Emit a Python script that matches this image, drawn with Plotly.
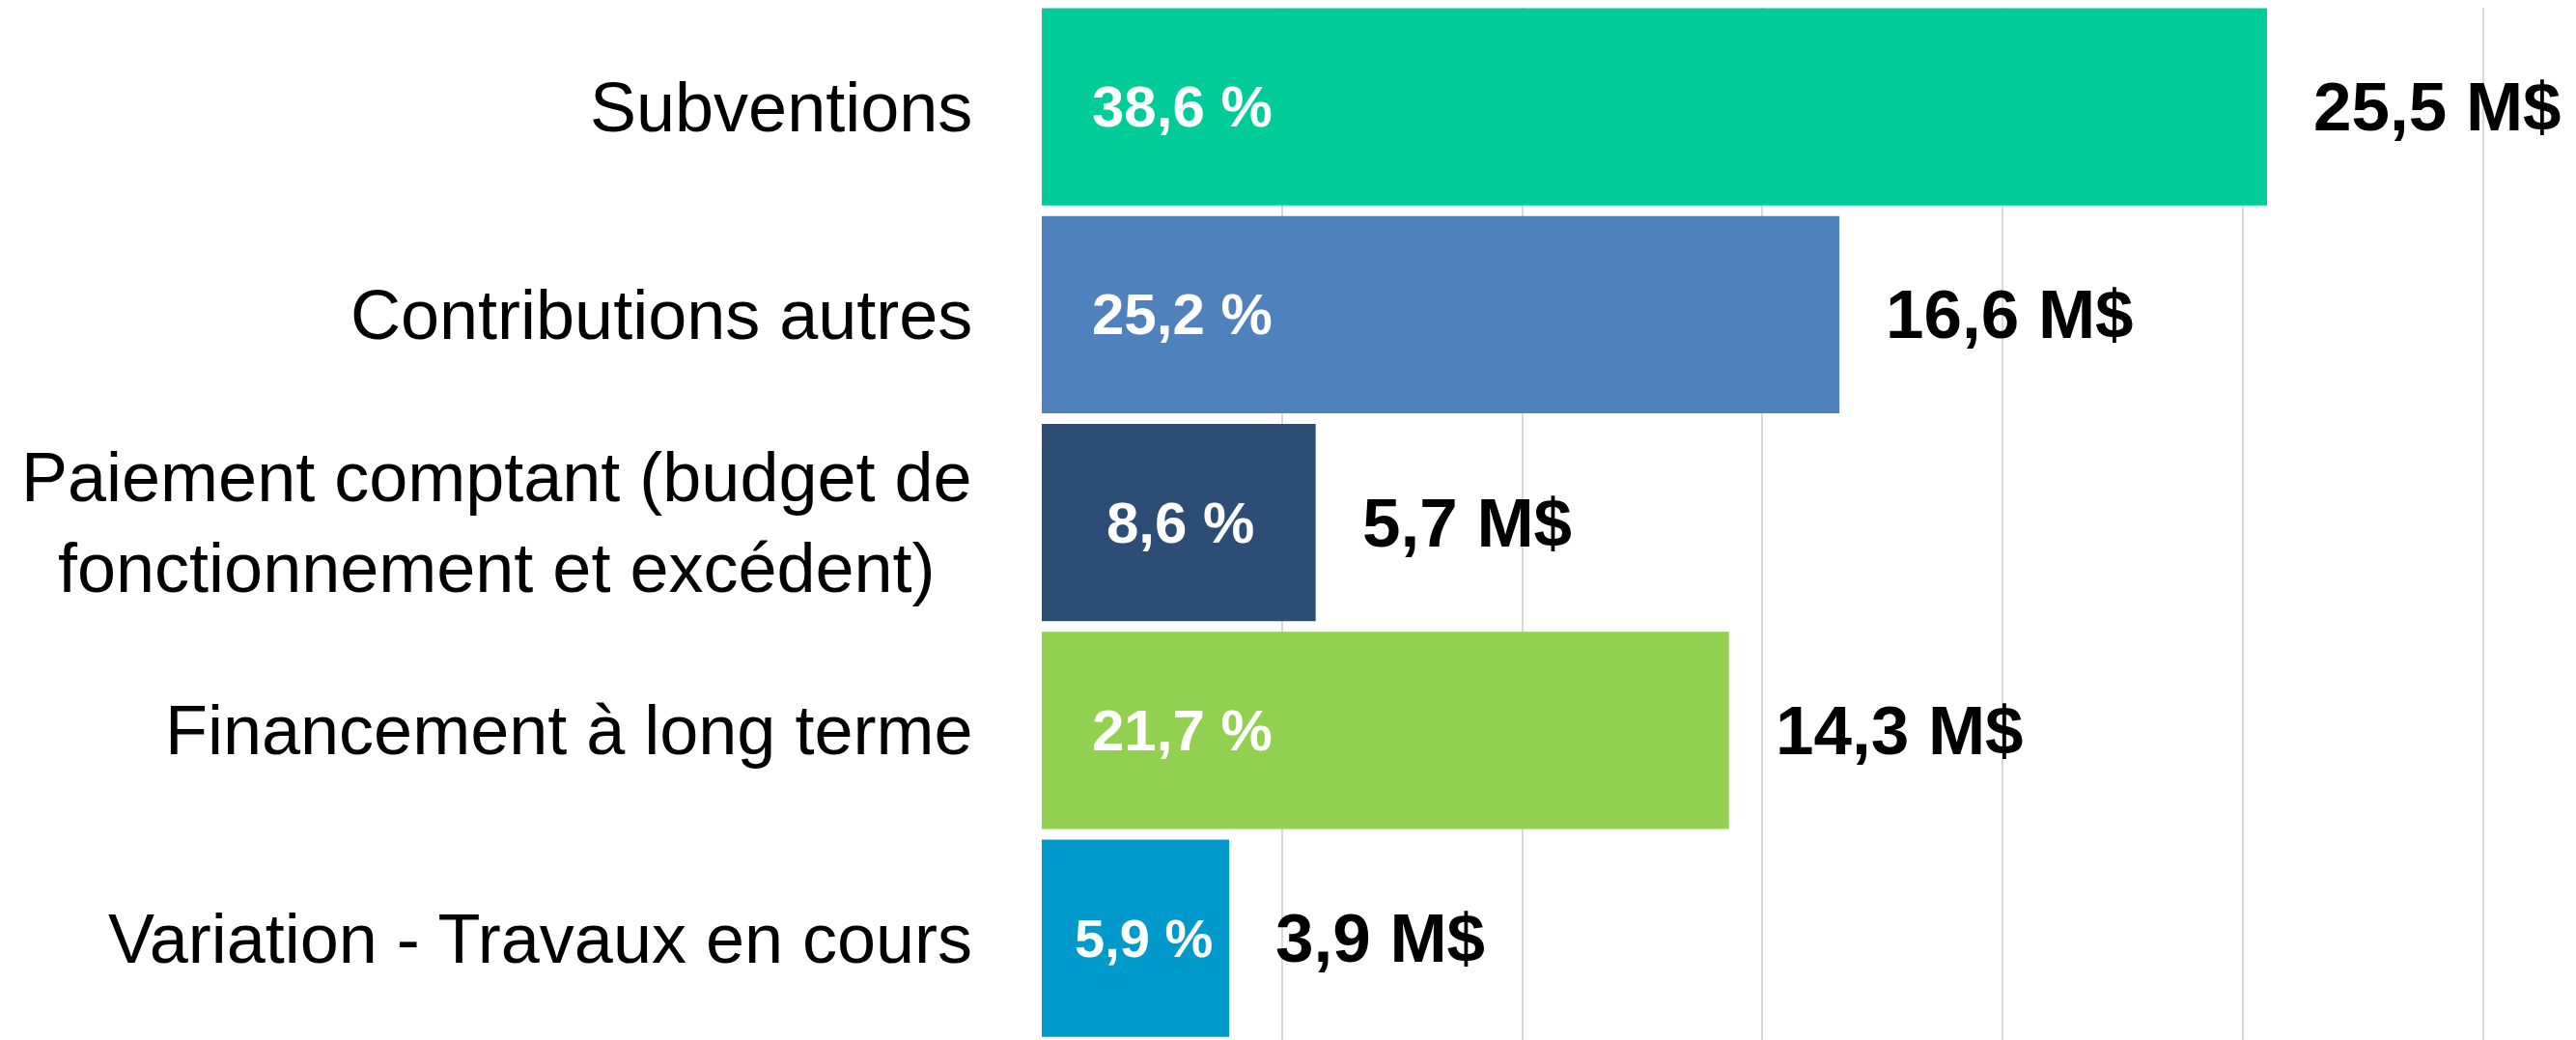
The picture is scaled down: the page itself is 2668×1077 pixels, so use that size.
import plotly.graph_objects as go

categories = [
    "Subventions",
    "Contributions autres",
    "Paiement comptant (budget de<br>fonctionnement et excédent)",
    "Financement à long terme",
    "Variation - Travaux en cours",
]
values_musd = [25.5, 16.6, 5.7, 14.3, 3.9]
value_labels = ["25,5 M$", "16,6 M$", "5,7 M$", "14,3 M$", "3,9 M$"]
pct_labels = ["38,6 %", "25,2 %", "8,6 %", "21,7 %", "5,9 %"]
colors = ["#00CC99", "#4F81BD", "#2C4D75", "#92D050", "#0099CC"]

FONT = "Liberation Sans, Arial, sans-serif"

fig = go.Figure()
fig.add_trace(go.Bar(
    y=categories,
    x=values_musd,
    orientation="h",
    marker=dict(color=colors, line=dict(width=0)),
    hoverinfo="skip",
))

annotations = []
# category labels (centered multi-line, right-anchored)
for c in categories:
    annotations.append(dict(
        x=0, xref="paper", y=c, yref="y", text=c, showarrow=False,
        xanchor="right", yanchor="middle", align="center", xshift=-70,
        font=dict(family=FONT, size=72, color="#000000"),
    ))
# value labels outside bar end
for c, v, t in zip(categories, values_musd, value_labels):
    annotations.append(dict(
        x=v, xref="x", y=c, yref="y", text="<b>" + t + "</b>", showarrow=False,
        xanchor="left", yanchor="middle", xshift=46,
        font=dict(family=FONT, size=71, color="#000000"),
    ))
# percent labels inside bars
pct_pos = [2.93, 2.93, 2.88, 2.93, 2.11]
pct_size = [60, 60, 60, 60, 56]
for c, p, t, s in zip(categories, pct_pos, pct_labels, pct_size):
    annotations.append(dict(
        x=p, xref="x", y=c, yref="y", text="<b>" + t + "</b>", showarrow=False,
        xanchor="center", yanchor="middle",
        font=dict(family=FONT, size=s, color="#FFFFFF"),
    ))

fig.update_layout(
    width=2660, height=1069,
    margin=dict(l=1071, r=0, t=0, b=0),
    plot_bgcolor="#FFFFFF", paper_bgcolor="#FFFFFF",
    showlegend=False,
    bargap=0.052,
    annotations=annotations,
    xaxis=dict(
        range=[0, 31.93], dtick=5, tick0=0,
        showgrid=True, gridcolor="#D9D9D9", gridwidth=2,
        showticklabels=False, zeroline=False, showline=False, ticks="",
    ),
    yaxis=dict(
        range=[4.4896, -0.4767], showticklabels=False, showgrid=False,
        zeroline=False, showline=False, ticks="",
    ),
)

fig.write_html("out.html")
